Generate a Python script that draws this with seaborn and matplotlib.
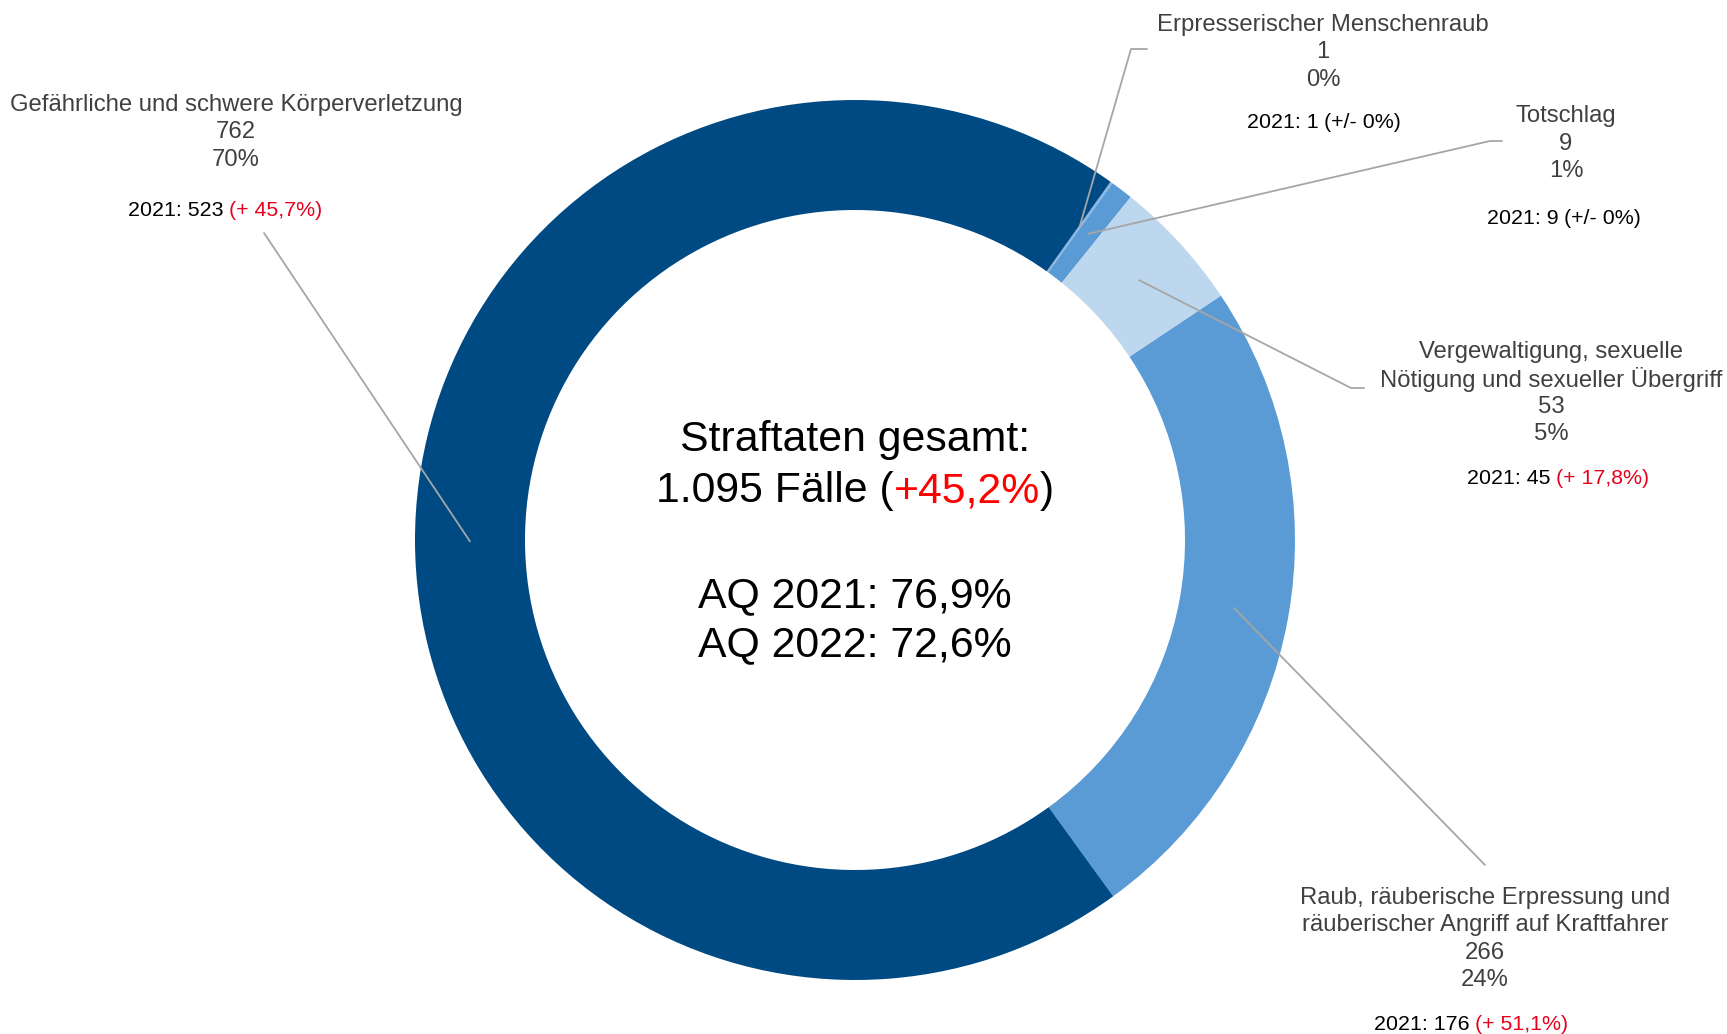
import matplotlib
matplotlib.use("Agg")
import matplotlib.pyplot as plt
import seaborn as sns
import numpy as np

# -------------------------------
# Data (2022 cases, 2021 cases)
categories = [
    "Erpresserischer Menschenraub",
    "Totschlag",
    "Vergewaltigung, sexuelle\nNötigung und sexueller Übergriff",
    "Raub, räuberische Erpressung und\nräuberischer Angriff auf Kraftfahrer",
    "Gefährliche und schwere Körperverletzung",
]
cases_2022 = [1, 9, 53, 266, 762]
cases_2021 = [1, 9, 45, 176, 523]
total_cases = "1.095"
total_change = "+45,2%"
aq_2021 = "76,9%"
aq_2022 = "72,6%"

colors = ["#8AB6E2", "#5B9BD5", "#BDD7EE", "#5B9BD5", "#004A84"]

# label layout (pixel coords): centre x, first line y, 2021 line x/y, leader end points
label_cx = [1323, 1566, 1551, 1485, 236]
label_y0 = [22, 113, 349, 895, 102]
label_x21 = [1324, 1564, 1558, 1471, 225]
label_y21 = [119, 215, 476, 1022, 207]
leader_end = [[(1131, 49), (1147, 49)],
              [(1490, 141), (1502, 141)],
              [(1351, 388), (1364, 388)],
              [(1485, 865)],
              [(264, 233)]]

W, H = 1727, 1034
CX, CY = 855, 540
R_OUT, RING = 440, 110
DY = 3  # small vertical nudge for text baselines

sns.set_theme(style="white")
plt.rcParams["font.family"] = ["Liberation Sans", "DejaVu Sans"]

fig = plt.figure(figsize=(W / 100, H / 100), dpi=100)
ax = fig.add_axes([0, 0, 1, 1])

wedges, _ = ax.pie(cases_2022, colors=colors, startangle=54.5, counterclock=False,
                   radius=R_OUT, center=(CX, H - CY),
                   wedgeprops=dict(width=RING, linewidth=0))
ax.set_xlim(0, W)
ax.set_ylim(0, H)
ax.set_aspect("equal")
ax.axis("off")

renderer = fig.canvas.get_renderer()


def line_parts(x, y, parts, size):
    # draw a centred line made of differently coloured parts
    texts = [ax.text(0, H - (y + DY), s, color=c, fontsize=size, ha="left", va="center")
             for s, c in parts]
    widths = [t.get_window_extent(renderer).width for t in texts]
    pos = x - sum(widths) / 2
    for t, w in zip(texts, widths):
        t.set_x(pos)
        pos += w


def fmt_change(new, old):
    ch = (new / old - 1) * 100
    if abs(ch) < 0.05:
        return "(+/- 0%)"
    return "(+ " + f"{ch:.1f}".replace(".", ",") + "%)"


total = sum(cases_2022)
grey = "#404040"
red = "#E8001C"
step = 27.5

for i, w in enumerate(wedges):
    mid = np.deg2rad((w.theta1 + w.theta2) / 2)
    r_mid = R_OUT - RING / 2
    start = (CX + r_mid * np.cos(mid), (H - CY) + r_mid * np.sin(mid))
    xs = [start[0]] + [p[0] for p in leader_end[i]]
    ys = [start[1]] + [H - p[1] for p in leader_end[i]]
    ax.plot(xs, ys, color="#A6A6A6", lw=1.3)

    lines = categories[i].split("\n") + [str(cases_2022[i]),
                                          f"{round(cases_2022[i] / total * 100)}%"]
    for k, s in enumerate(lines):
        ax.text(label_cx[i], H - (label_y0[i] + k * step + DY), s, color=grey,
                fontsize=17.2, ha="center", va="center")
    ch = fmt_change(cases_2022[i], cases_2021[i])
    ch_col = "black" if "+/-" in ch else red
    line_parts(label_x21[i], label_y21[i],
               [(f"2021: {cases_2021[i]} ", "black"), (ch, ch_col)], 15.4)

# centre text
line_parts(CX, 437, [("Straftaten gesamt:", "black")], 30.8)
line_parts(CX, 488, [(f"{total_cases} Fälle (", "black"), (total_change, "#FF0000"),
                     (")", "black")], 30.8)
line_parts(CX, 593, [(f"AQ 2021: {aq_2021}", "black")], 30.8)
line_parts(CX, 642, [(f"AQ 2022: {aq_2022}", "black")], 30.8)

fig.savefig("out.png", dpi=100)
